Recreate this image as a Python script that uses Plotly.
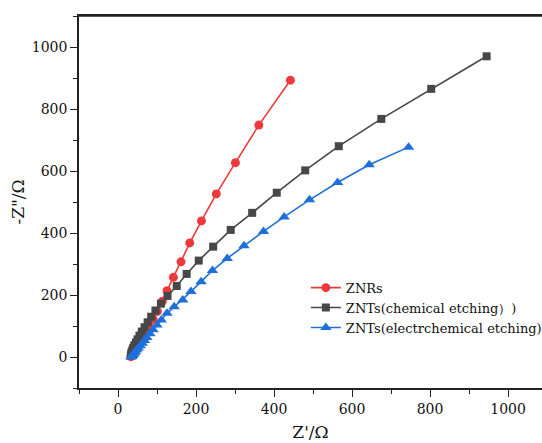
import plotly.graph_objects as go

# Nyquist data (Z' vs -Z'') for the three electrodes
znr_re = [33, 34, 36, 38, 40, 43, 46, 50, 54, 59, 65, 72, 80, 90, 101, 113.7, 125.6, 142, 161.5, 184, 214, 252, 301, 361, 442]
znr_im = [1, 3, 6, 9, 13, 18, 25, 33, 42, 53, 66, 81, 100, 122, 147, 180, 214, 257, 307, 368, 439, 526, 627, 748, 893]

znt_chem_re = [33, 34, 35, 37, 39, 42, 46, 50, 55, 61, 68, 76, 85, 96, 110, 127, 150.5, 176, 207, 244, 289, 344, 407, 480, 566, 675, 803, 945]
znt_chem_im = [5, 10, 16, 23, 30, 38, 47, 57, 69, 82, 96, 112, 130, 150, 172, 197, 229, 268, 311, 356, 410, 465, 530, 602, 680, 768, 865, 970]

znt_elec_re = [33, 35, 37, 39, 42, 45, 48, 52, 57, 62, 68, 74, 82, 90, 100, 111, 125.6, 144, 166, 187, 213, 242, 280, 323, 373, 426, 491, 563, 644, 745]
znt_elec_im = [0, 2, 5, 8, 12, 17, 23, 29, 36, 44, 53, 63, 75, 88, 103, 119.5, 141, 162, 184, 211, 243, 279, 318, 359, 405, 452, 507, 563, 620, 677]

names = ["ZNRs", "ZNTs(chemical etching）)", "ZNTs(electrchemical etching)"]
colors = ["#EC3A3C", "#474747", "#1F6FDB"]
symbols = ["circle", "square", "triangle-up"]
sizes = [9, 8, 10]

x_ticks = [0, 200, 400, 600, 800, 1000]
y_ticks = [0, 200, 400, 600, 800, 1000]

serif = "DejaVu Serif"

fig = go.Figure()
series = [(znr_re, znr_im), (znt_chem_re, znt_chem_im), (znt_elec_re, znt_elec_im)]
for (xs, ys), name, c, s, sz in zip(series, names, colors, symbols, sizes):
    fig.add_trace(go.Scatter(
        x=xs, y=ys, name=name, mode="lines+markers",
        line=dict(color=c, width=1.6),
        marker=dict(color=c, symbol=s, size=sz, line=dict(width=0)),
    ))

axis_common = dict(
    showgrid=False, zeroline=False,
    showline=True, linecolor="#222222", linewidth=1.6,
    ticks="outside", ticklen=7, tickwidth=1.4, tickcolor="#222222",
    tickfont=dict(family=serif, size=14, color="#111111"),
    minor=dict(ticks="outside", ticklen=4, tickwidth=1.2, tickcolor="#222222", dtick=100),
)

fig.update_layout(
    width=542, height=443,
    margin=dict(l=79, r=0, t=16, b=55, autoexpand=False),
    paper_bgcolor="white", plot_bgcolor="white",
    font=dict(family=serif),
    xaxis=dict(range=[-100, 1087], tickvals=x_ticks, mirror=True,
               title=dict(text="Z'/Ω", font=dict(family=serif, size=17, color="#111111"), standoff=11),
               **axis_common),
    yaxis=dict(range=[-100, 1100], tickvals=y_ticks, mirror=False,
               title=dict(text='-Z"/Ω', font=dict(family=serif, size=17, color="#111111"), standoff=3),
               **axis_common),
    legend=dict(x=0.49, y=0.31, xanchor="left", yanchor="top",
                bgcolor="rgba(0,0,0,0)", borderwidth=0,
                font=dict(family=serif, size=13, color="#111111"),
                tracegroupgap=0, itemsizing="trace"),
    showlegend=True,
    shapes=[dict(type="line", xref="paper", yref="paper", x0=0, x1=1, y0=1, y1=1,
                 line=dict(color="#222222", width=1.6))],
)

fig.write_html("out.html")
